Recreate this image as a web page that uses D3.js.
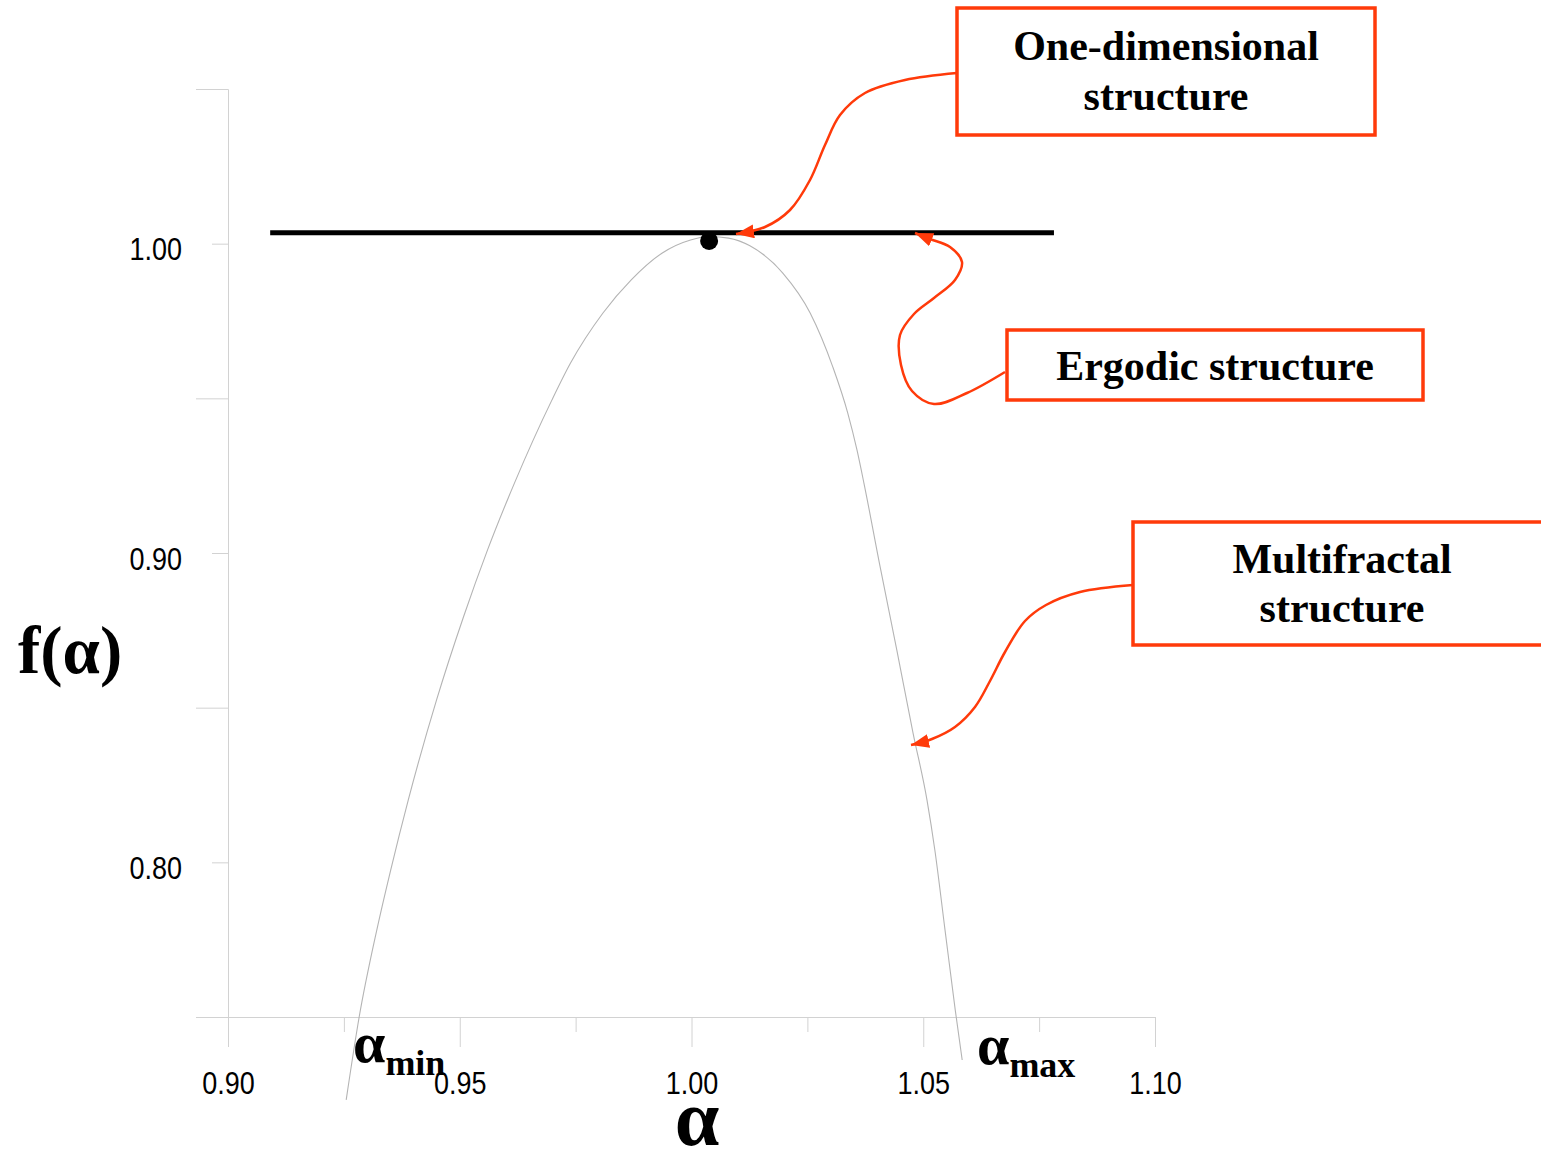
<!DOCTYPE html>
<html>
<head>
<meta charset="utf-8">
<script src="https://cdn.jsdelivr.net/npm/d3@7/dist/d3.min.js"></script>
<style>
body { margin: 0; background: #fff; }
</style>
</head>
<body>
<div id="chart"></div>
<script>
var chart_width = 1541
var chart_height = 1152

// f(alpha) spectrum
var alpha_values = [0.9255, 0.9283, 0.9321, 0.9351, 0.9389, 0.9450, 0.9508, 0.9560, 0.9618, 0.9699,
	0.9739, 0.9809, 0.9870, 0.9937, 0.9998, 1.0040, 1.0080, 1.0126, 1.0197, 1.0256, 1.0305,
	1.0337, 1.0357, 1.0372, 1.0407, 1.0443, 1.0478, 1.0508, 1.0525, 1.0547, 1.0569, 1.0584]
var f_values = [0.7232, 0.7500, 0.7781, 0.7975, 0.8202, 0.8525, 0.8793, 0.9010, 0.9226, 0.9495,
	0.9614, 0.9776, 0.9883, 0.9970, 1.0012, 1.0023, 1.0018, 0.9993, 0.9905, 0.9776, 0.9601,
	0.9453, 0.9333, 0.9226, 0.8955, 0.8686, 0.8418, 0.8202, 0.8040, 0.7781, 0.7523, 0.7361]

// ergodic (flat) line and the one-dimensional point
var flat_alpha = [0.9091, 1.0782]
var flat_f = [1.0035, 1.0035]
var point_alpha = [1.0038]
var point_f = [1.0009]

var major_x_ticks = [0.90, 0.95, 1.00, 1.05, 1.10]
var minor_x_ticks = [0.925, 0.975, 1.025, 1.075]
var major_y_ticks = [0.80, 0.90, 1.00]
var minor_y_ticks = [0.75, 0.85, 0.95, 1.05]

var callout_texts = [
	['One-dimensional', 'structure'],
	['Ergodic structure'],
	['Multifractal', 'structure']
]

var serif = '"Liberation Serif", "Times New Roman", serif'
var sans = '"Liberation Sans", Arial, sans-serif'
var red = '#ff3a0a'

var svg = d3.select('#chart')
	.append('svg')
	.attr('width', chart_width)
	.attr('height', chart_height)

var defs = svg.append('defs')
defs.append('marker')
	.attr('id', 'head')
	.attr('markerUnits', 'userSpaceOnUse')
	.attr('markerWidth', 20)
	.attr('markerHeight', 16)
	.attr('refX', 18)
	.attr('refY', 7)
	.attr('orient', 'auto')
	.append('path')
	.attr('d', 'M0,0 L18,7 L0,14 Z')
	.attr('fill', red)

// scales
var x_scale = d3.scaleLinear().domain([0.90, 1.10]).range([228, 1155])
var y_scale = d3.scaleLinear().domain([0.75, 1.05]).range([1017, 89])

// axes
var axis_color = '#d2d2d2'
var fmt = d3.format('.2f')

svg.append('g')
	.attr('transform', 'translate(0,' + y_scale(0.75) + ')')
	.call(d3.axisBottom(x_scale).tickValues(minor_x_ticks).tickSize(15).tickSizeOuter(0).tickFormat(''))
var gx = svg.append('g')
	.attr('transform', 'translate(0,' + y_scale(0.75) + ')')
	.call(d3.axisBottom(x_scale).tickValues(major_x_ticks).tickSize(30).tickSizeOuter(0).tickFormat(fmt))
gx.selectAll('text')
	.attr('y', 77)
	.attr('dy', 0)
	.attr('transform', 'scale(0.87,1)')

svg.append('g')
	.attr('transform', 'translate(' + x_scale(0.90) + ',0)')
	.call(d3.axisLeft(y_scale).tickValues(minor_y_ticks).tickSize(32).tickSizeOuter(0).tickFormat(''))
var gy = svg.append('g')
	.attr('transform', 'translate(' + x_scale(0.90) + ',0)')
	.call(d3.axisLeft(y_scale).tickValues(major_y_ticks).tickSize(16).tickSizeOuter(0).tickFormat(fmt))
gy.selectAll('text')
	.attr('x', -46 / 0.87)
	.attr('y', 16)
	.attr('dy', 0)
	.attr('transform', 'scale(0.87,1)')

svg.selectAll('.domain, .tick line').attr('stroke', axis_color).attr('stroke-width', 1)
svg.selectAll('.tick text')
	.attr('font-family', sans)
	.attr('font-size', 31)
	.attr('fill', '#000')

// spectrum curve
var spectrum = alpha_values.map(function(a, i) { return { a: a, f: f_values[i] } })
var line = d3.line()
	.x(d => x_scale(d.a))
	.y(d => y_scale(d.f))
	.curve(d3.curveMonotoneX)

svg.append('path')
	.datum(spectrum)
	.attr('fill', 'none')
	.attr('stroke', '#b4b4b4')
	.attr('stroke-width', 1.1)
	.attr('d', line)

// flat line
var flat = flat_alpha.map(function(a, i) { return { a: a, f: flat_f[i] } })
svg.append('path')
	.datum(flat)
	.attr('fill', 'none')
	.attr('stroke', '#000')
	.attr('stroke-width', 5)
	.attr('d', d3.line().x(d => x_scale(d.a)).y(d => y_scale(d.f)))

svg.selectAll('circle.pt')
	.data(point_alpha)
	.enter()
	.append('circle')
	.attr('class', 'pt')
	.attr('cx', d => x_scale(d))
	.attr('cy', (d, i) => y_scale(point_f[i]))
	.attr('r', 9)
	.attr('fill', '#000')

// axis titles
svg.append('text')
	.attr('x', 18)
	.attr('y', 673)
	.attr('font-family', serif)
	.attr('font-weight', 'bold')
	.attr('font-size', 67)
	.text('f(α)')

svg.append('text')
	.attr('x', 697)
	.attr('y', 1145)
	.attr('text-anchor', 'middle')
	.attr('font-family', serif)
	.attr('font-weight', 'bold')
	.attr('font-size', 80)
	.text('α')

function alpha_label(px, py, sub) {
	var t = svg.append('text')
		.attr('x', px)
		.attr('y', py)
		.attr('font-family', serif)
		.attr('font-weight', 'bold')
	t.append('tspan').attr('font-size', 58).text('α')
	t.append('tspan').attr('font-size', 36).attr('dy', 13).text(sub)
}
alpha_label(353, 1062, 'min')
alpha_label(977, 1064, 'max')

// callout boxes
var boxes = [
	{ x: 957, y: 8, w: 418, h: 127, cx: 1166, base: [60, 110] },
	{ x: 1007, y: 330, w: 416, h: 70, cx: 1215, base: [380] },
	{ x: 1133, y: 522, w: 418, h: 123, cx: 1342, base: [573, 622] }
]
boxes.forEach(function(b, i) {
	svg.append('rect')
		.attr('x', b.x).attr('y', b.y)
		.attr('width', b.w).attr('height', b.h)
		.attr('fill', '#fff')
		.attr('stroke', red)
		.attr('stroke-width', 3.5)
	callout_texts[i].forEach(function(s, j) {
		svg.append('text')
			.attr('x', b.cx)
			.attr('y', b.base[j])
			.attr('text-anchor', 'middle')
			.attr('font-family', serif)
			.attr('font-weight', 'bold')
			.attr('font-size', 42)
			.text(s)
	})
})

// callout arrows
var arrows = [
	[[957, 73], [905, 80], [865, 93], [840, 115], [825, 145], [810, 180], [790, 210], [765, 227], [736, 234]],
	[[1005, 372], [967, 393], [934, 404], [912, 391], [901, 365], [900, 335], [914, 314], [934, 298], [955, 280], [962, 262], [950, 247], [930, 239], [915, 233]],
	[[1133, 585], [1080, 592], [1046, 605], [1025, 621], [1005, 652], [990, 681], [975, 707], [955, 727], [932, 739], [911, 745]]
]
var arrow_line = d3.line().curve(d3.curveCatmullRom)
arrows.forEach(function(p) {
	svg.append('path')
		.attr('d', arrow_line(p))
		.attr('fill', 'none')
		.attr('stroke', red)
		.attr('stroke-width', 2.5)
		.attr('marker-end', 'url(#head)')
})
</script>
</body>
</html>
